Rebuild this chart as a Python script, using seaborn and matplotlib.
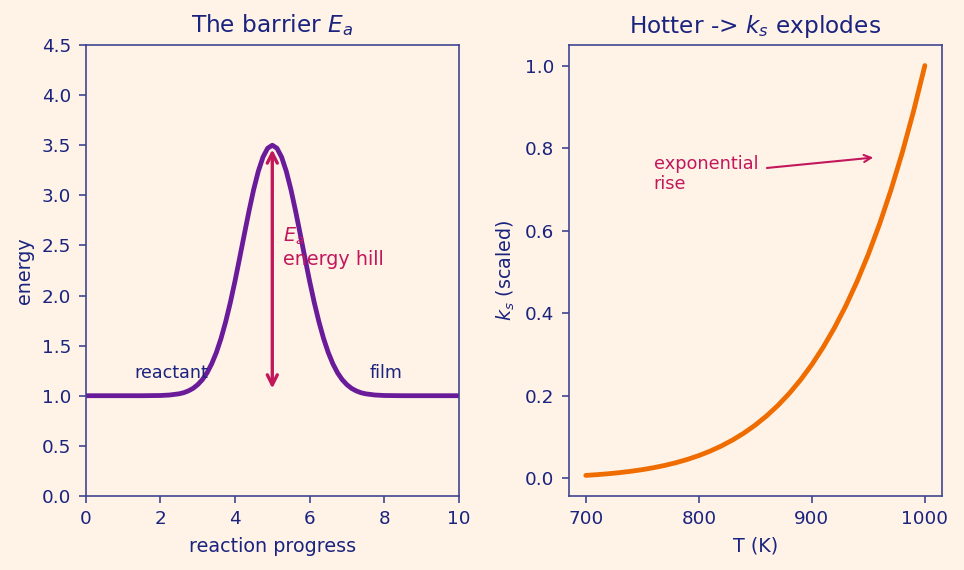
import matplotlib
matplotlib.use("Agg")
import matplotlib.pyplot as plt
import seaborn as sns
import pandas as pd

# ---- data ----
progress = [0, 1, 1.5, 2, 2.25, 2.5, 2.625, 2.75, 2.875, 3, 3.125, 3.25, 3.375,
            3.5, 3.625, 3.75, 3.875, 4, 4.125, 4.25, 4.375, 4.5, 4.625, 4.75,
            4.875, 5, 5.125, 5.25, 5.375, 5.5, 5.625, 5.75, 5.875, 6, 6.125,
            6.25, 6.375, 6.5, 6.625, 6.75, 6.875, 7, 7.125, 7.25, 7.375, 7.5,
            7.75, 8, 8.5, 9, 10]
energy = [1.000, 1.000, 1.000, 1.002, 1.007, 1.019, 1.030, 1.048, 1.073, 1.110,
          1.160, 1.228, 1.318, 1.431, 1.571, 1.738, 1.930, 2.144, 2.375, 2.611,
          2.842, 3.057, 3.240, 3.381, 3.470, 3.500, 3.470, 3.381, 3.240, 3.057,
          2.842, 2.611, 2.375, 2.144, 1.930, 1.738, 1.571, 1.431, 1.318, 1.228,
          1.160, 1.110, 1.073, 1.048, 1.030, 1.019, 1.007, 1.002, 1.000, 1.000,
          1.000]

temps = [700, 710, 720, 730, 740, 750, 760, 770, 780, 790, 800, 810, 820, 830,
         840, 850, 860, 870, 880, 890, 900, 910, 920, 930, 940, 950, 960, 970,
         980, 990, 1000]
ks_scaled = [0.00692, 0.00874, 0.01097, 0.01368, 0.01695, 0.02089, 0.02561,
             0.03122, 0.03789, 0.04574, 0.05496, 0.06573, 0.07828, 0.09283,
             0.10964, 0.12899, 0.15119, 0.17654, 0.20545, 0.23826, 0.27545,
             0.31737, 0.36455, 0.41747, 0.47677, 0.54291, 0.61661, 0.69843,
             0.78911, 0.88941, 1.00000]

left_title = "The barrier $E_a$"
right_title = "Hotter -> $k_s$ explodes"

# ---- style ----
BG = "#fff3e8"
NAVY = "#1a237e"
SPINE = "#3f4690"
PURPLE = "#6a1b9a"
CRIMSON = "#c2185b"
ORANGE = "#ef6c00"

sns.set_theme(style="ticks")
plt.rcParams.update({
    "font.family": ["DejaVu Sans"],
    "figure.facecolor": BG,
    "axes.facecolor": BG,
    "axes.edgecolor": SPINE,
    "axes.linewidth": 0.8,
    "axes.labelcolor": NAVY,
    "axes.labelpad": 4.0,
    "text.color": NAVY,
    "xtick.color": SPINE,
    "ytick.color": SPINE,
    "xtick.labelcolor": NAVY,
    "ytick.labelcolor": NAVY,
    "xtick.labelsize": 8.8,
    "ytick.labelsize": 8.8,
    "xtick.major.size": 3.5,
    "ytick.major.size": 3.5,
    "xtick.major.width": 0.8,
    "ytick.major.width": 0.8,
    "xtick.major.pad": 3.5,
    "ytick.major.pad": 3.5,
    "axes.labelsize": 9.2,
    "axes.titlesize": 11.2,
    "axes.titlepad": 6.0,
    "axes.titlecolor": NAVY,
})

df_e = pd.DataFrame({"progress": progress, "energy": energy})
df_k = pd.DataFrame({"T": temps, "ks": ks_scaled})

fig, (ax1, ax2) = plt.subplots(1, 2, figsize=(964 / 150, 570 / 150), dpi=150)
fig.subplots_adjust(left=0.089, right=0.977, top=0.921, bottom=0.130, wspace=0.295)

# left panel
sns.lineplot(data=df_e, x="progress", y="energy", ax=ax1, color=PURPLE, lw=2.3)
ax1.set_xlim(0, 10)
ax1.set_ylim(0, 4.5)
ax1.set_xlabel("reaction progress")
ax1.set_ylabel("energy")
ax1.set_title(left_title)
ax1.annotate("", xy=(5, 1.03), xytext=(5, 3.5),
             arrowprops=dict(arrowstyle="<->", color=CRIMSON, lw=1.6))
ax1.text(5.3, 2.3, "$E_a$\nenergy hill", color=CRIMSON, fontsize=9.2)
ax1.text(1.3, 1.18, "reactant", fontsize=8.4, color=NAVY)
ax1.text(7.6, 1.18, "film", fontsize=8.4, color=NAVY)

# right panel
sns.lineplot(data=df_k, x="T", y="ks", ax=ax2, color=ORANGE, lw=2.3)
ax2.set_xlabel("T (K)")
ax2.set_ylabel("$k_s$ (scaled)")
ax2.set_title(right_title)
ax2.annotate("exponential\nrise", xy=(958, 0.778), xytext=(760, 0.70),
             color=CRIMSON, fontsize=8.5,
             arrowprops=dict(arrowstyle="->", color=CRIMSON, lw=1.0))

for ax in (ax1, ax2):
    for s in ax.spines.values():
        s.set_visible(True)
        s.set_color(SPINE)

fig.savefig("out.png", dpi=150, facecolor=BG)
